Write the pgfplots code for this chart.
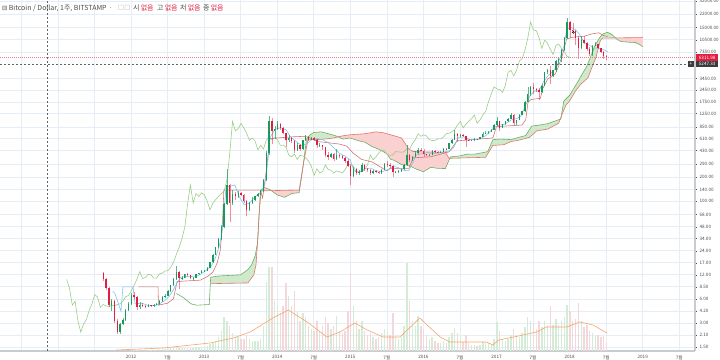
\documentclass[border=0pt]{standalone}
\usepackage{pgfplots}
\pgfplotsset{compat=1.18}
\usepackage{pgfplotstable}
\usepackage{fontspec}
\setmainfont{Noto Sans CJK KR}
\newfontfamily\djv{DejaVu Sans}

\definecolor{upc}{RGB}{22,155,90}
\definecolor{dnc}{RGB}{225,30,65}
\definecolor{gridc}{RGB}{230,237,244}
\definecolor{volup}{RGB}{212,236,214}
\definecolor{voldn}{RGB}{242,216,219}
\definecolor{tenk}{RGB}{120,190,240}
\definecolor{kij}{RGB}{205,110,105}
\definecolor{lag}{RGB}{155,205,135}
\definecolor{spa}{RGB}{110,175,100}
\definecolor{spb}{RGB}{220,120,110}
\definecolor{cloudg}{RGB}{208,233,203}
\definecolor{cloudr}{RGB}{250,208,208}
\definecolor{volma}{RGB}{245,165,110}
\definecolor{txt}{RGB}{75,75,75}
\definecolor{axc}{RGB}{200,203,208}
\definecolor{darkc}{RGB}{60,60,60}

\pgfplotstableread{
i o h l c v
0 12.5 13.0 10.0 10.5 0.5
1 10.5 10.8 7.8 8.2 0.5
2 8.2 8.5 4.8 5.0 0.5
3 5.0 6.0 4.2 5.6 0.5
4 5.6 5.8 3.0 3.2 0.5
5 3.2 3.4 2.2 2.3 0.5
6 2.3 3.0 2.2 2.9 0.5
7 2.9 3.5 2.8 3.3 0.5
8 3.3 4.5 3.2 4.3 0.5
9 4.3 5.5 4.2 5.2 0.5
10 5.2 7.2 5.0 6.8 1
11 6.8 7.4 6.0 6.3 1
12 6.3 6.5 4.3 4.7 1
13 4.7 5.5 4.5 5.1 1
14 5.1 5.3 4.7 4.9 1
15 4.9 5.0 4.6 4.8 1
16 4.8 5.2 4.7 5.0 1
17 5.0 5.1 4.8 4.9 1
18 4.9 5.2 4.8 5.1 1
19 5.1 5.3 5.0 5.2 1
20 5.2 5.8 5.1 5.6 2
21 5.6 6.5 5.5 6.4 2
22 6.4 6.9 6.2 6.6 2
23 6.6 7.8 6.5 7.6 2
24 7.6 9.0 7.4 8.9 3
25 8.9 10.8 8.7 10.6 3
26 10.6 15.5 10.4 13.2 5
27 13.2 13.5 8.0 10.8 4
28 10.8 11.6 10.2 11.1 3
29 11.1 12.4 11.0 12.2 3
30 12.2 12.8 11.6 12.0 3
31 12.0 12.1 10.5 10.9 3
32 10.9 11.2 10.4 10.95 3
33 10.95 12.4 10.8 12.3 4
34 12.3 12.8 12.0 12.6 4
35 12.6 13.6 12.5 13.4 4
36 13.4 13.8 13.0 13.5 4
37 13.5 15.0 13.3 14.8 5
38 14.8 17.5 14.5 17.3 7
39 17.3 22.0 17.0 21.5 8
40 21.5 27.0 21.0 26.5 10
41 26.5 35.0 26.0 34.0 14
42 34.0 50.0 33.0 47.0 20
43 47.0 95.0 46.0 92.0 34
44 92.0 250.0 90.0 160.0 30
45 160.0 165.0 55.0 95.0 25
46 95.0 140.0 90.0 125.0 18
47 125.0 130.0 105.0 115.0 14
48 115.0 135.0 110.0 128.0 14
49 128.0 130.0 115.0 120.0 12
50 120.0 125.0 95.0 100.0 12
51 100.0 105.0 65.0 78.0 16
52 78.0 98.0 76.0 95.0 12
53 95.0 112.0 92.0 105.0 10
54 105.0 118.0 100.0 115.0 10
55 115.0 128.0 113.0 124.0 10
56 124.0 138.0 120.0 135.0 12
57 135.0 190.0 130.0 185.0 25
58 185.0 420.0 180.0 400.0 69
59 400.0 1160.0 380.0 1000.0 84
60 1000.0 1100.0 520.0 760.0 84
61 760.0 870.0 600.0 810.0 50
62 810.0 1000.0 780.0 940.0 45
63 940.0 960.0 780.0 830.0 38
64 830.0 850.0 700.0 710.0 45
65 710.0 720.0 480.0 580.0 68
66 580.0 680.0 550.0 620.0 55
67 620.0 640.0 540.0 570.0 45
68 570.0 580.0 400.0 440.0 60
69 440.0 540.0 420.0 500.0 40
70 500.0 520.0 430.0 450.0 30
71 450.0 590.0 440.0 580.0 38
72 580.0 680.0 570.0 640.0 34
73 640.0 660.0 560.0 590.0 25
74 590.0 640.0 580.0 625.0 22
75 625.0 635.0 570.0 585.0 20
76 585.0 600.0 470.0 500.0 30
77 500.0 530.0 480.0 505.0 20
78 505 510 440 475 25
79 475 480 360 380 34
80 380 410 330 360 28
81 360 400 350 390 22
82 390 400 320 335 25
83 335 450 330 375 35
84 375 385 345 370 20
85 370 380 340 350 18
86 350 355 305 320 20
87 320 335 265 275 40
88 275 290 160 210 78
89 210 265 200 255 45
90 255 260 215 225 30
91 225 245 215 235 22
92 235 300 230 285 30
93 285 290 240 250 20
94 250 260 235 245 16
95 245 250 215 225 18
96 225 245 220 240 14
97 240 245 228 235 12
98 235 240 220 225 14
99 225 255 222 248 18
100 248 300 245 290 22
101 290 315 270 285 20
102 285 300 260 275 16
103 275 285 200 230 38
104 230 240 225 235 14
105 235 245 225 238 12
106 238 255 235 250 14
107 250 290 245 285 25
108 285 500 280 380 88
109 380 390 310 330 50
110 330 370 320 360 30
111 360 420 355 400 25
112 400 470 390 440 35
113 440 460 420 430 25
114 430 450 360 385 22
115 385 395 365 375 16
116 375 385 365 380 12
117 380 440 375 420 14
118 420 440 405 415 10
119 415 420 405 410 8
120 410 425 405 418 8
121 418 465 415 455 10
122 455 460 440 450 8
123 450 540 445 530 14
124 530 600 520 590 18
125 590 780 580 700 23
126 700 720 550 650 18
127 650 700 640 680 12
128 680 690 640 655 9
129 655 660 480 590 16
130 590 600 565 575 8
131 575 590 565 578 6
132 578 615 570 605 6
133 605 610 595 603 5
134 603 640 600 635 6
135 635 730 630 700 9
136 700 750 690 710 8
137 710 760 700 740 8
138 740 800 735 790 7
139 790 930 780 900 12
140 900 1150 880 1000 29
141 1000 1010 750 830 20
142 830 930 820 920 12
143 920 1010 910 1000 10
144 1000 1100 990 1080 12
145 1080 1280 1070 1200 16
146 1200 1250 900 950 22
147 950 1050 890 1040 16
148 1040 1220 1030 1200 14
149 1200 1350 1190 1330 18
150 1330 1800 1320 1750 24
151 1750 2700 1740 2200 34
152 2200 2800 2100 2700 30
153 2700 3000 2200 2550 28
154 2550 2650 2300 2500 22
155 2500 2600 1850 2300 30
156 2300 2900 2250 2800 24
157 2800 4200 2750 4100 30
158 4100 4500 3900 4350 26
159 4350 4950 2950 3700 45
160 3700 4450 3600 4350 26
161 4350 5900 4200 5700 32
162 5700 6200 5100 6100 26
163 6100 8000 5500 7800 30
164 7800 11500 7700 11000 34
165 11000 19700 10800 17500 46
166 17500 17800 11000 14000 40
167 14000 17200 12900 13600 30
168 13600 14000 9000 11200 32
169 11200 11800 6000 8200 48
170 8200 11800 8000 10400 30
171 10400 11700 9300 9500 24
172 9500 9900 7500 8000 26
173 8000 8500 6500 6900 20
174 6900 9000 6600 8900 18
175 8900 9950 8800 9300 15
176 9300 9400 8000 8200 16
177 8200 8300 7100 7400 14
178 7400 7700 6100 6500 15
179 6500 6800 5800 6311.98 9
}\candles

\pgfplotstableread{
t v
2012.62 7.0
2012.72 6.2
2012.82 5.2
2012.9 5.0
2013.07 5.1
2013.09 11.2
2013.2 11.6
2013.35 11.8
2013.5 12.0
2013.6 14
2013.65 16
2013.7 21
2013.73 30
2013.75 65
2013.78 140
2013.83 148
2013.9 140
2014.0 120
2014.1 112
2014.2 125
2014.3 128
2014.35 255
2014.4 600
2014.45 680
2014.5 725
2014.6 740
2014.7 700
2014.8 660
2014.9 600
2015.0 620
2015.1 575
2015.2 548
2015.3 483
2015.4 443
2015.5 393
2015.55 336
2015.6 325
2015.7 288
2015.8 281
2015.9 253
2016.0 234
2016.1 266
2016.2 258
2016.3 257
2016.37 359
2016.5 370
2016.6 390
2016.7 389
2016.8 404
2016.88 418
2016.95 590
2017.05 600
2017.2 591
2017.3 629
2017.4 665
2017.48 870
2017.6 904
2017.7 936
2017.8 1010
2017.88 1070
2017.92 1795
2018.0 2120
2018.1 3000
2018.24 5000
2018.35 9000
2018.42 11500
2018.46 12500
2018.52 13000
2018.58 12200
2018.65 10600
2018.7 10000
2018.8 9800
2018.9 9700
2018.97 9000
2019.0 8600
}\spanA

\pgfplotstableread{
t v
2013.09 9.3
2013.6 9.5
2013.68 12
2013.71 16
2013.74 40
2013.77 135
2014.3 138
2014.36 300
2014.42 587
2014.6 595
2014.75 615
2014.9 660
2015.0 680
2015.2 700
2015.35 740
2015.45 720
2015.55 680
2015.65 640
2015.7 620
2015.8 450
2015.86 420
2016.0 415
2016.3 410
2016.35 345
2016.6 350
2016.85 355
2016.95 500
2017.1 510
2017.2 560
2017.3 580
2017.45 630
2017.55 760
2017.7 800
2017.85 950
2017.9 1250
2017.95 1600
2018.0 1800
2018.08 2400
2018.15 2900
2018.25 3500
2018.3 4600
2018.36 6300
2018.42 10300
2018.45 11000
2018.7 11100
2019.0 11200
}\spanB

\begin{document}
\begin{tikzpicture}
\useasboundingbox (0bp,0bp) rectangle (720bp,360bp);

% ---- grid and ticks
\begin{axis}[at={(0bp,9bp)}, anchor=south west, scale only axis,
  width=695bp, height=351bp, xmin=2010.208, xmax=2019.715,
  ymode=log, ymin=1.336, ymax=33040,
  axis x line*=bottom, axis y line*=right,
  axis line style={draw=axc, line width=1.2bp},
  xtick={2010.5,2011,2011.5,2012,2012.5,2013,2013.5,2014,2014.5,2015,2015.5,2016,2016.5,2017,2017.5,2018,2018.5,2019,2019.5},
  xticklabels={{},{},{},2012,7월,2013,7월,2014,7월,2015,7월,2016,7월,2017,7월,2018,7월,2019,7월},
  ytick={1.5,2.1,3,4.2,6,8.5,12,17,24,34,48,68,100,140,200,290,430,610,850,1250,1750,2450,3450,7350,10500,15000,22000,32000},
  yticklabels={1.50,2.10,3.00,4.20,6.00,8.50,12.00,17.00,24.00,34.00,48.00,68.00,100.00,140.00,200.00,290.00,430.00,610.00,850.00,1250.00,1750.00,2450.00,3450.00,7350.00,10500.00,15000.00,22000.00,32000.00},
  grid=major, grid style={draw=gridc, line width=0.7bp},
  tick label style={font=\fontsize{4.6}{5}\selectfont, text=txt},
  x tick style={draw=none}, y tick style={draw=txt, line width=0.4bp},
  major tick length=1.6bp, tick align=outside,
  yticklabel style={xshift=-0.5bp},
  xticklabel style={yshift=0.5bp},
]
\addplot[draw=none] coordinates {(2012,10)};
\end{axis}

% ---- volume
\begin{axis}[at={(0bp,9bp)}, anchor=south west, scale only axis,
  width=695bp, height=351bp, xmin=2010.208, xmax=2019.715,
  ymin=0, ymax=351, hide axis]
\addplot[ycomb, draw=volup, line width=1.4bp, mark=none]
  table[x expr={2011.62+\thisrow{i}/26}, y expr={(\thisrow{c}>=\thisrow{o})*\thisrow{v}}] {\candles};
\addplot[ycomb, draw=voldn, line width=1.4bp, mark=none]
  table[x expr={2011.62+\thisrow{i}/26}, y expr={(\thisrow{c}<\thisrow{o})*\thisrow{v}}] {\candles};
\addplot[volma, line width=0.6bp, mark=none] coordinates {
(2011.8,1) (2012.44,3) (2013.08,8) (2013.40,13) (2013.63,19) (2013.94,33) (2014.15,41)
(2014.41,29) (2014.68,14) (2014.86,19) (2015.06,28) (2015.23,21) (2015.45,14) (2015.68,14)
(2015.95,33) (2016.05,26) (2016.23,14) (2016.36,9) (2016.86,9) (2016.95,6) (2017.03,11)
(2017.3,15) (2017.55,19) (2017.68,24) (2017.96,24) (2018.14,29) (2018.32,26) (2018.51,18)};
\end{axis}

% ---- price, ichimoku
\begin{axis}[at={(0bp,9bp)}, anchor=south west, scale only axis,
  width=695bp, height=351bp, xmin=2010.208, xmax=2019.715,
  ymode=log, ymin=1.336, ymax=33040, hide axis]
% cloud fills (span A forward, span B backward)
\addplot[fill=cloudg, draw=none] coordinates {
(2013.09,11.2) (2013.2,11.6) (2013.35,11.8) (2013.5,12.0) (2013.6,14) (2013.65,16) (2013.7,21) (2013.73,30) (2013.752,70)
(2013.74,40) (2013.71,16) (2013.68,12) (2013.6,9.5) (2013.09,9.3)};
\addplot[fill=cloudr, draw=none] coordinates {
(2013.752,70) (2013.78,140) (2013.83,148) (2013.9,140) (2014.0,120) (2014.1,112) (2014.2,125) (2014.3,128) (2014.35,255) (2014.355,270)
(2014.3,138) (2013.77,135) (2013.752,70)};
\addplot[fill=cloudg, draw=none] coordinates {
(2014.355,270) (2014.4,600) (2014.45,680) (2014.5,725) (2014.6,740) (2014.7,700) (2014.8,660) (2014.83,641)
(2014.75,615) (2014.6,595) (2014.42,587) (2014.36,300)};
\addplot[fill=cloudr, draw=none] coordinates {
(2014.83,641) (2014.9,600) (2015.0,620) (2015.1,575) (2015.2,548) (2015.3,483) (2015.4,443) (2015.5,393) (2015.55,336)
(2015.6,325) (2015.7,288) (2015.8,281) (2015.9,253) (2016.0,234) (2016.1,266) (2016.2,258) (2016.3,257) (2016.355,340)
(2016.35,345) (2016.3,410) (2016.0,415) (2015.86,420) (2015.8,450) (2015.7,620) (2015.65,640) (2015.55,680) (2015.45,720)
(2015.35,740) (2015.2,700) (2015.0,680) (2014.9,660)};
\addplot[fill=cloudg, draw=none] coordinates {
(2016.355,340) (2016.37,359) (2016.5,370) (2016.6,390) (2016.7,389) (2016.8,404) (2016.88,418) (2016.95,590) (2017.05,600)
(2017.2,591) (2017.3,629) (2017.4,665) (2017.48,870) (2017.6,904) (2017.7,936) (2017.8,1010) (2017.88,1070) (2017.92,1795)
(2018.0,2120) (2018.1,3000) (2018.24,5000) (2018.35,9000) (2018.42,11500) (2018.46,12500) (2018.52,13000) (2018.58,12200) (2018.628,11100)
(2018.45,11000) (2018.42,10300) (2018.36,6300) (2018.3,4600) (2018.25,3500) (2018.15,2900) (2018.08,2400) (2018.0,1800)
(2017.95,1600) (2017.9,1250) (2017.85,950) (2017.7,800) (2017.55,760) (2017.45,630) (2017.3,580) (2017.2,560) (2017.1,510)
(2016.95,500) (2016.85,355) (2016.6,350)};
\addplot[fill=cloudr, draw=none] coordinates {
(2018.628,11100) (2018.65,10600) (2018.7,10000) (2018.8,9800) (2018.9,9700) (2018.97,9000) (2019.0,8600)
(2019.0,11200) (2018.7,11100)};
\addplot[spa, line width=0.6bp, mark=none] table[x=t, y=v] {\spanA};
\addplot[spb, line width=0.6bp, mark=none] table[x=t, y=v] {\spanB};

% lagging span
\addplot[lag, line width=0.6bp, mark=none] table[x expr={2011.12+\thisrow{i}/26}, y=c] {\candles};

% base line
\addplot[kij, line width=0.55bp, mark=none] coordinates {
(2012.1,8.5) (2012.37,8.5) (2012.375,5.0) (2012.5,5.3) (2012.58,6.0) (2012.63,9.9) (2012.95,10.3)
(2013.05,11.5) (2013.12,13) (2013.18,17) (2013.22,24) (2013.25,50) (2013.27,138) (2013.77,138)
(2013.8,110) (2013.85,240) (2013.9,610) (2014.0,620) (2014.2,640) (2014.38,650) (2014.45,620)
(2014.55,560) (2014.7,540) (2014.85,520) (2014.95,490) (2015.04,400) (2015.15,335) (2015.3,310)
(2015.5,240) (2015.55,258) (2015.8,258) (2015.86,350) (2016.1,360) (2016.35,415) (2016.46,570)
(2016.95,620) (2017.0,860) (2017.35,900) (2017.4,1050) (2017.43,1725) (2017.47,1875) (2017.6,1945)
(2017.63,2545) (2017.7,3400) (2017.8,3875) (2017.85,4925) (2017.9,6675) (2017.96,10775)
(2018.05,11325) (2018.2,11650) (2018.3,12400) (2018.4,12850) (2018.46,11900) (2018.52,11500)};

% conversion line
\addplot[tenk, line width=0.55bp, mark=none] coordinates {
(2011.75,7.5) (2011.78,7.0) (2011.863,4.2) (2011.89,8.5) (2012.027,8.5) (2012.055,5.2) (2012.15,5.3)
(2012.25,4.9) (2012.35,5.0) (2012.45,5.6) (2012.52,6.4) (2012.58,7.8) (2012.63,9.5) (2012.68,11.2)
(2012.8,11.5) (2012.88,11.3) (2012.95,12.2) (2013.02,13.5) (2013.1,15.5) (2013.15,19) (2013.2,26)
(2013.24,38) (2013.27,70) (2013.3,150) (2013.42,160) (2013.48,115) (2013.55,90) (2013.62,95)
(2013.7,115) (2013.78,130) (2013.83,160) (2013.87,300) (2013.9,620) (2013.97,800) (2014.05,830)
(2014.12,790) (2014.18,640) (2014.26,560) (2014.33,500) (2014.4,520) (2014.47,590) (2014.55,610)
(2014.62,590) (2014.7,540) (2014.78,460) (2014.85,400) (2014.92,370) (2015.0,330) (2015.05,240)
(2015.12,230) (2015.2,255) (2015.28,260) (2015.36,240) (2015.44,235) (2015.52,250) (2015.58,275)
(2015.65,265) (2015.72,245) (2015.8,240) (2015.85,300) (2015.9,380) (2015.97,390) (2016.05,405)
(2016.13,395) (2016.2,400) (2016.28,415) (2016.36,425) (2016.42,480) (2016.47,620) (2016.55,640)
(2016.62,600) (2016.7,585) (2016.78,610) (2016.85,660) (2016.92,760) (2016.98,860) (2017.05,900)
(2017.12,930) (2017.2,1040) (2017.27,1080) (2017.33,1150) (2017.4,1600) (2017.46,2100) (2017.52,2400)
(2017.58,2400) (2017.64,3100) (2017.7,3700) (2017.77,4200) (2017.83,5000) (2017.88,6700) (2017.92,8600)
(2017.96,14000) (2018.02,15000) (2018.08,14000) (2018.13,12500) (2018.2,9700) (2018.27,9000)
(2018.33,8200) (2018.38,8300) (2018.44,8100) (2018.5,7600) (2018.52,7400)};

% candle wicks
\addplot[draw=none, mark=none, error bars/.cd, y dir=plus, y explicit, error mark=none,
  error bar style={draw=upc, solid, line width=0.45bp, opacity=0.7}]
  table[x expr={2011.62+\thisrow{i}/26}, y=l,
        y error plus expr={(\thisrow{c}>=\thisrow{o})*(\thisrow{h}-\thisrow{l})}] {\candles};
\addplot[draw=none, mark=none, error bars/.cd, y dir=plus, y explicit, error mark=none,
  error bar style={draw=dnc, solid, line width=0.45bp, opacity=0.5}]
  table[x expr={2011.62+\thisrow{i}/26}, y=l,
        y error plus expr={(\thisrow{c}<\thisrow{o})*(\thisrow{h}-\thisrow{l})}] {\candles};
% candle bodies
\addplot[draw=none, mark=none, error bars/.cd, y dir=plus, y explicit, error mark=none,
  error bar style={draw=upc, solid, line width=1.35bp}]
  table[x expr={2011.62+\thisrow{i}/26}, y=o,
        y error plus expr={(\thisrow{c}>=\thisrow{o})*(\thisrow{c}-\thisrow{o})}] {\candles};
\addplot[draw=none, mark=none, error bars/.cd, y dir=plus, y explicit, error mark=none,
  error bar style={draw=dnc, solid, line width=1.35bp}]
  table[x expr={2011.62+\thisrow{i}/26}, y=c,
        y error plus expr={(\thisrow{c}<\thisrow{o})*(\thisrow{o}-\thisrow{c})}] {\candles};

% marker
\addplot[only marks, mark=*, mark size=1.1bp, mark options={fill=yellow!85!orange, draw=none}] coordinates {(2018.05,13000)};

% price lines and crosshair
\addplot[dnc!60, line width=0.5bp, dash pattern=on 1bp off 1bp, mark=none] coordinates {(2010.208,6311.98) (2019.715,6311.98)};
\addplot[darkc!80, line width=0.5bp, dash pattern=on 2bp off 2bp, mark=none] coordinates {(2010.208,5247.33) (2019.715,5247.33)};
\addplot[darkc!80, line width=0.5bp, dash pattern=on 2bp off 2bp, mark=none] coordinates {(2010.851,1.336) (2010.851,33040)};

\coordinate (lp1) at (axis cs:2019.715,6311.98);
\coordinate (lp2) at (axis cs:2019.715,5247.33);
\end{axis}

\node[fill=dnc, text=white, font=\fontsize{4.6}{5}\selectfont, inner sep=0pt,
  minimum width=22bp, minimum height=6.5bp, anchor=west] at ([xshift=1bp]lp1) {6311.98};
\node[fill=darkc, text=white, font=\fontsize{4.6}{5}\selectfont, inner sep=0pt,
  minimum width=22bp, minimum height=6.5bp, anchor=west] at ([xshift=1bp]lp2) {5247.33};
\node[fill=darkc, text=white, font=\fontsize{5}{5}\selectfont, inner sep=0pt,
  minimum width=6bp, minimum height=6bp, anchor=east] at ([xshift=-1bp]lp2) {+};

% title line
\begin{scope}[every node/.style={anchor=west, inner sep=0pt, text=txt, font=\fontsize{7}{8}\selectfont}]
\node at (2bp,352bp) {{\djv\fontsize{6.5}{8}\selectfont ⊟}\,Bitcoin / Dollar, 1주, BITSTAMP\,\,·};
\node at (118bp,352bp) {{\color{gray!55}\djv\fontsize{6.5}{7}\selectfont □□}};
\node at (133bp,352bp) {시\,{\color{dnc}없음}};
\node at (157bp,352bp) {고\,{\color{dnc}없음}};
\node at (180bp,352bp) {저\,{\color{dnc}없음}};
\node at (203bp,352bp) {종\,{\color{dnc}없음}};
\end{scope}
\end{tikzpicture}
\end{document}
